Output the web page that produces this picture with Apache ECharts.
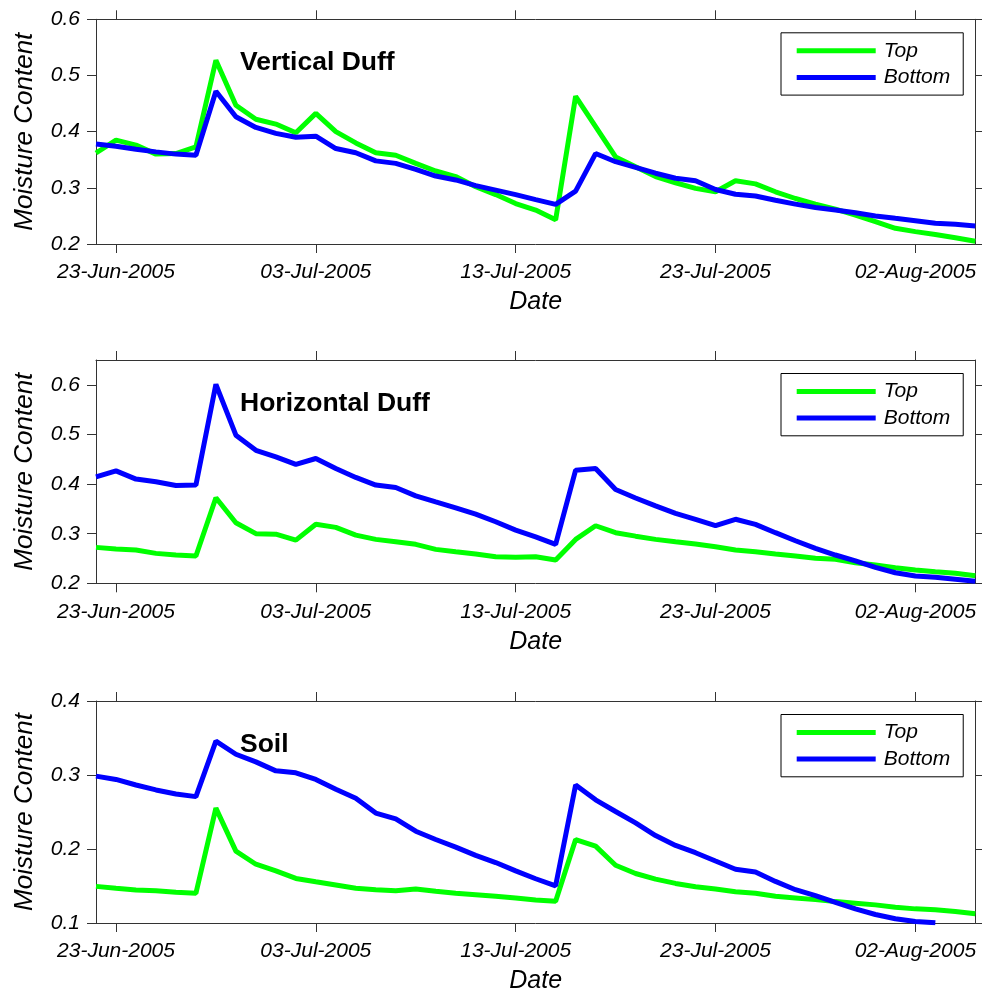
<!DOCTYPE html>
<html>
<head>
<meta charset="utf-8">
<script src="https://cdn.jsdelivr.net/npm/echarts@6/dist/echarts.min.js"></script>
<style>
html,body{margin:0;padding:0;background:#fff;}
#chart{width:982px;height:995px;}
</style>
</head>
<body>
<div id="chart"></div>
<script>
// ---- data ----
const dates = [
  '22-Jun-2005','23-Jun-2005','24-Jun-2005','25-Jun-2005','26-Jun-2005','27-Jun-2005','28-Jun-2005','29-Jun-2005','30-Jun-2005',
  '01-Jul-2005','02-Jul-2005','03-Jul-2005','04-Jul-2005','05-Jul-2005','06-Jul-2005','07-Jul-2005','08-Jul-2005','09-Jul-2005','10-Jul-2005',
  '11-Jul-2005','12-Jul-2005','13-Jul-2005','14-Jul-2005','15-Jul-2005','16-Jul-2005','17-Jul-2005','18-Jul-2005','19-Jul-2005','20-Jul-2005',
  '21-Jul-2005','22-Jul-2005','23-Jul-2005','24-Jul-2005','25-Jul-2005','26-Jul-2005','27-Jul-2005','28-Jul-2005','29-Jul-2005','30-Jul-2005',
  '31-Jul-2005','01-Aug-2005','02-Aug-2005','03-Aug-2005','04-Aug-2005','05-Aug-2005'
];
const tickLabels = ['23-Jun-2005','03-Jul-2005','13-Jul-2005','23-Jul-2005','02-Aug-2005'];
const seriesNames = ['Top','Bottom'];
const panelTitles = ['Vertical Duff','Horizontal Duff','Soil'];

const verticalTop = [0.362,0.385,0.376,0.360,0.361,0.373,0.527,0.447,0.422,0.4135,0.398,0.4325,0.400,0.380,0.3625,0.358,0.3435,0.330,0.320,0.302,0.288,0.272,0.2605,0.243,0.463,0.409,0.355,0.3375,0.320,0.309,0.299,0.293,0.3125,0.307,0.293,0.281,0.271,0.262,0.2515,0.240,0.228,0.222,0.217,0.211,0.205];
const verticalBottom = [0.378,0.374,0.3685,0.364,0.360,0.358,0.472,0.4265,0.4075,0.397,0.390,0.392,0.370,0.3625,0.348,0.3435,0.333,0.321,0.314,0.304,0.296,0.288,0.279,0.2705,0.294,0.361,0.3465,0.3365,0.326,0.317,0.3125,0.297,0.2885,0.2855,0.278,0.271,0.265,0.2605,0.2557,0.250,0.2457,0.2415,0.237,0.235,0.232];
const horizontalTop = [0.2724,0.269,0.267,0.2603,0.257,0.255,0.3723,0.322,0.300,0.299,0.287,0.319,0.3127,0.297,0.2885,0.2837,0.2785,0.2684,0.2636,0.259,0.2536,0.2523,0.2536,0.247,0.2885,0.316,0.302,0.295,0.2885,0.2837,0.279,0.2737,0.267,0.2636,0.259,0.255,0.2503,0.2483,0.2415,0.2368,0.2314,0.2268,0.2234,0.2201,0.2153];
const horizontalBottom = [0.4145,0.4266,0.410,0.4045,0.397,0.398,0.601,0.4985,0.468,0.4547,0.4395,0.4515,0.4314,0.4133,0.398,0.393,0.3763,0.364,0.352,0.3394,0.324,0.3072,0.2935,0.2785,0.428,0.4314,0.389,0.372,0.356,0.341,0.329,0.316,0.329,0.3187,0.302,0.2857,0.2704,0.257,0.245,0.232,0.2213,0.2147,0.212,0.208,0.204];
const soilTop = [0.1495,0.1469,0.1446,0.1437,0.1415,0.1402,0.2553,0.1972,0.1794,0.1704,0.1602,0.1557,0.1513,0.1469,0.145,0.1437,0.1459,0.1428,0.1402,0.1383,0.1361,0.1339,0.1312,0.1294,0.2128,0.2039,0.178,0.1669,0.1593,0.1535,0.149,0.1459,0.1423,0.1402,0.1361,0.1339,0.1316,0.1289,0.1268,0.1245,0.1214,0.1191,0.1178,0.1155,0.1124];
const soilBottom = [0.2985,0.294,0.2865,0.2798,0.2744,0.2708,0.3458,0.328,0.3177,0.3056,0.303,0.294,0.2807,0.2687,0.2486,0.2406,0.224,0.2128,0.2026,0.1914,0.1817,0.1704,0.1598,0.1503,0.2865,0.2664,0.2507,0.2352,0.2182,0.2048,0.195,0.1838,0.1727,0.169,0.1562,0.145,0.137,0.128,0.1191,0.1115,0.1058,0.1021,0.1002,null,null];

const yTicks1 = [0.2,0.3,0.4,0.5,0.6];
const yTicks2 = [0.2,0.3,0.4,0.5,0.6];
const yTicks3 = [0.1,0.2,0.3,0.4];

// ---- layout ----
const FONT = '"Liberation Sans", Arial, Helvetica, sans-serif';
const panels = [
  {top:19.3, height:224.7, min:0.2, max:0.6, ticks:yTicks1, top1:verticalTop, bot:verticalBottom},
  {top:360, height:223.3, min:0.2, max:0.65, ticks:yTicks2, top1:horizontalTop, bot:horizontalBottom},
  {top:701, height:223.3, min:0.1, max:0.4, ticks:yTicks3, top1:soilTop, bot:soilBottom}
];
const AX = '#333';
const tickFn = (i, v) => tickLabels.indexOf(v) >= 0;

const grid = [], xAxis = [], yAxis = [], series = [], legend = [], title = [];
panels.forEach((p, k) => {
  grid.push({left:96, width:879.3, top:p.top, height:p.height, containLabel:false});
  xAxis.push({
    type:'category', gridIndex:k, data:dates, boundaryGap:false, position:'bottom',
    name:'Date', nameLocation:'middle', nameGap:46,
    nameTextStyle:{fontFamily:FONT, fontSize:25, fontStyle:'italic', color:'#000'},
    axisLine:{show:true, lineStyle:{color:AX, width:1}},
    axisTick:{show:true, inside:false, length:9, interval:tickFn, lineStyle:{color:AX, width:1}},
    axisLabel:{show:true, interval:tickFn, margin:18, fontFamily:FONT, fontSize:21, fontStyle:'italic', color:'#000'},
    splitLine:{show:false}
  });
  xAxis.push({
    type:'category', gridIndex:k, data:dates, boundaryGap:false, position:'top',
    axisLine:{show:true, lineStyle:{color:AX, width:1}},
    axisTick:{show:true, inside:false, length:9, interval:tickFn, lineStyle:{color:AX, width:1}},
    axisLabel:{show:false}, splitLine:{show:false}
  });
  yAxis.push({
    type:'value', gridIndex:k, min:p.min, max:p.max, position:'left',
    name:'Moisture Content', nameLocation:'middle', nameGap:58,
    nameTextStyle:{fontFamily:FONT, fontSize:26, fontStyle:'italic', color:'#000'},
    axisLine:{show:true, lineStyle:{color:AX, width:1}},
    axisTick:{show:true, inside:false, length:9, customValues:p.ticks, lineStyle:{color:AX, width:1}},
    axisLabel:{show:true, customValues:p.ticks, margin:16, fontFamily:FONT, fontSize:21, fontStyle:'italic', color:'#000'},
    splitLine:{show:false}
  });
  yAxis.push({
    type:'value', gridIndex:k, min:p.min, max:p.max, position:'right',
    axisLine:{show:true, lineStyle:{color:AX, width:1}},
    axisTick:{show:true, inside:false, length:9, customValues:p.ticks, lineStyle:{color:AX, width:1}},
    axisLabel:{show:false}, splitLine:{show:false}
  });
  series.push({
    name:seriesNames[0], type:'line', xAxisIndex:2*k, yAxisIndex:2*k, data:p.top1,
    showSymbol:false, symbol:'none', lineStyle:{color:'#00ff00', width:5}, itemStyle:{color:'#00ff00'},
    clip:true, silent:true
  });
  series.push({
    name:seriesNames[1], type:'line', xAxisIndex:2*k, yAxisIndex:2*k, data:p.bot,
    showSymbol:false, symbol:'none', lineStyle:{color:'#0000ff', width:5}, itemStyle:{color:'#0000ff'},
    clip:true, silent:true, connectNulls:false
  });
  legend.push({
    data:seriesNames, orient:'vertical', left:781, top:p.top + 13.5,
    icon:'rect', itemWidth:79, itemHeight:5, itemGap:5.6,
    padding:[7.5, 13, 7.2, 15.7],
    borderColor:'#000', borderWidth:1, backgroundColor:'#fff',
    textStyle:{fontFamily:FONT, fontSize:21, fontStyle:'italic', color:'#000', lineHeight:21, padding:[0,0,0,3]},
    selectedMode:false
  });
  title.push({
    text:panelTitles[k], left:240, top:p.top + 30, padding:0,
    textStyle:{fontFamily:FONT, fontSize:26.5, fontWeight:'bold', color:'#000'}
  });
});

const chart = echarts.init(document.getElementById('chart'), null, {renderer:'canvas'});
chart.setOption({
  animation:false, backgroundColor:'#fff',
  title, legend, grid, xAxis, yAxis, series
});
</script>
</body>
</html>
